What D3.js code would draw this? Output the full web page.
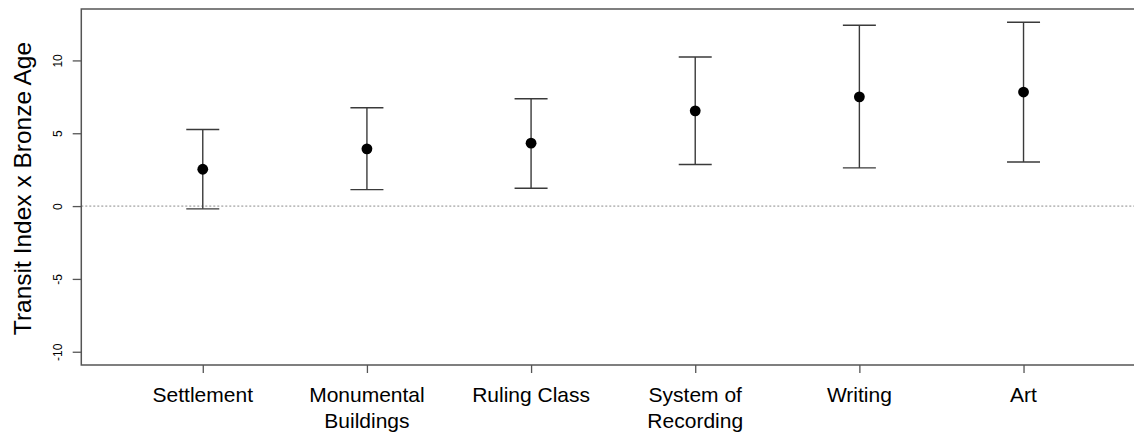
<!DOCTYPE html>
<html>
<head>
<meta charset="utf-8">
<script src="https://cdn.jsdelivr.net/npm/d3@7"></script>
<style>
  body { margin: 0; background: #fff; }
  text { font-family: "Liberation Sans", Arial, sans-serif; fill: #000; }
</style>
</head>
<body>
<div id="chart"></div>
<script>
// chart values
var categories = [["Settlement"], ["Monumental", "Buildings"], ["Ruling Class"],
                  ["System of", "Recording"], ["Writing"], ["Art"]];
var estimates = [2.53, 3.93, 4.32, 6.54, 7.50, 7.83];
var lower     = [-0.19, 1.13, 1.22, 2.85, 2.62, 3.03];
var upper     = [5.26, 6.75, 7.37, 10.23, 12.41, 12.62];
var yTicks    = [-10, -5, 0, 5, 10];

var width = 1134, height = 432;
var plotLeft = 81.3, plotTop = 9, plotBottom = 365;

var svg = d3.select("#chart").append("svg")
    .attr("width", width)
    .attr("height", height);

// x runs 0.5..6.5 plus 4% padding, so the right side falls off the window
var x = d3.scaleLinear().domain([0.26, 6.74]).range([plotLeft, 1145]);
var y = d3.scaleLinear().domain([-10.91, 13.53]).range([plotBottom, plotTop]);

var data = categories.map(function(c, i) {
  return { name: c, i: i + 1, est: estimates[i], lo: lower[i], hi: upper[i] };
});

// zero reference line
svg.append("line")
    .attr("x1", plotLeft).attr("x2", width)
    .attr("y1", y(0)).attr("y2", y(0))
    .attr("stroke", "#8a8a8a")
    .attr("stroke-width", 1)
    .attr("stroke-dasharray", "2,2");

// error bars
var bars = svg.selectAll(".bar")
    .data(data)
    .enter().append("g")
    .attr("class", "bar")
    .attr("stroke", "#3a3a3a")
    .attr("stroke-width", 1.4);

bars.append("line")
    .attr("x1", function(d) { return x(d.i); })
    .attr("x2", function(d) { return x(d.i); })
    .attr("y1", function(d) { return y(d.lo); })
    .attr("y2", function(d) { return y(d.hi); });

bars.append("line")
    .attr("x1", function(d) { return x(d.i) - 16.5; })
    .attr("x2", function(d) { return x(d.i) + 16.5; })
    .attr("y1", function(d) { return y(d.hi); })
    .attr("y2", function(d) { return y(d.hi); });

bars.append("line")
    .attr("x1", function(d) { return x(d.i) - 16.5; })
    .attr("x2", function(d) { return x(d.i) + 16.5; })
    .attr("y1", function(d) { return y(d.lo); })
    .attr("y2", function(d) { return y(d.lo); });

svg.selectAll(".pt")
    .data(data)
    .enter().append("circle")
    .attr("class", "pt")
    .attr("cx", function(d) { return x(d.i); })
    .attr("cy", function(d) { return y(d.est); })
    .attr("r", 5.4)
    .attr("fill", "#000");

// box (right side is off the window)
svg.append("path")
    .attr("d", "M" + width + "," + plotTop + "H" + plotLeft + "V" + plotBottom + "H" + width)
    .attr("fill", "none")
    .attr("stroke", "#555")
    .attr("stroke-width", 1.5);

// y axis
var yAxis = svg.append("g")
    .attr("transform", "translate(" + plotLeft + ",0)")
    .call(d3.axisLeft(y).tickValues(yTicks).tickSize(8.6).tickFormat(d3.format("d")));
yAxis.select(".domain").remove();
yAxis.selectAll(".tick line").attr("stroke", "#555").attr("stroke-width", 1.3);
yAxis.selectAll(".tick text").remove();
yAxis.selectAll(".tick").append("text")
    .attr("transform", "translate(-19.5,0) rotate(-90)")
    .attr("text-anchor", "middle")
    .attr("font-size", 12)
    .text(function(d) { return d; });

// x axis
var xAxis = svg.append("g")
    .attr("transform", "translate(0," + plotBottom + ")")
    .call(d3.axisBottom(x).tickValues(d3.range(1, 7)).tickSize(8).tickFormat(""));
xAxis.select(".domain").remove();
xAxis.selectAll(".tick line").attr("stroke", "#555").attr("stroke-width", 1.3);

var labels = svg.selectAll(".xlab")
    .data(data)
    .enter().append("text")
    .attr("class", "xlab")
    .attr("text-anchor", "middle")
    .attr("font-size", 21)
    .attr("transform", function(d) { return "translate(" + x(d.i) + ",402)"; });
labels.selectAll("tspan")
    .data(function(d) { return d.name; })
    .enter().append("tspan")
    .attr("x", 0)
    .attr("y", function(d, j) { return j * 25.5; })
    .text(function(d) { return d; });

// axis title
svg.append("text")
    .attr("transform", "translate(31," + 188.5 + ") rotate(-90)")
    .attr("text-anchor", "middle")
    .attr("font-size", 24.5)
    .text("Transit Index x Bronze Age");
</script>
</body>
</html>
